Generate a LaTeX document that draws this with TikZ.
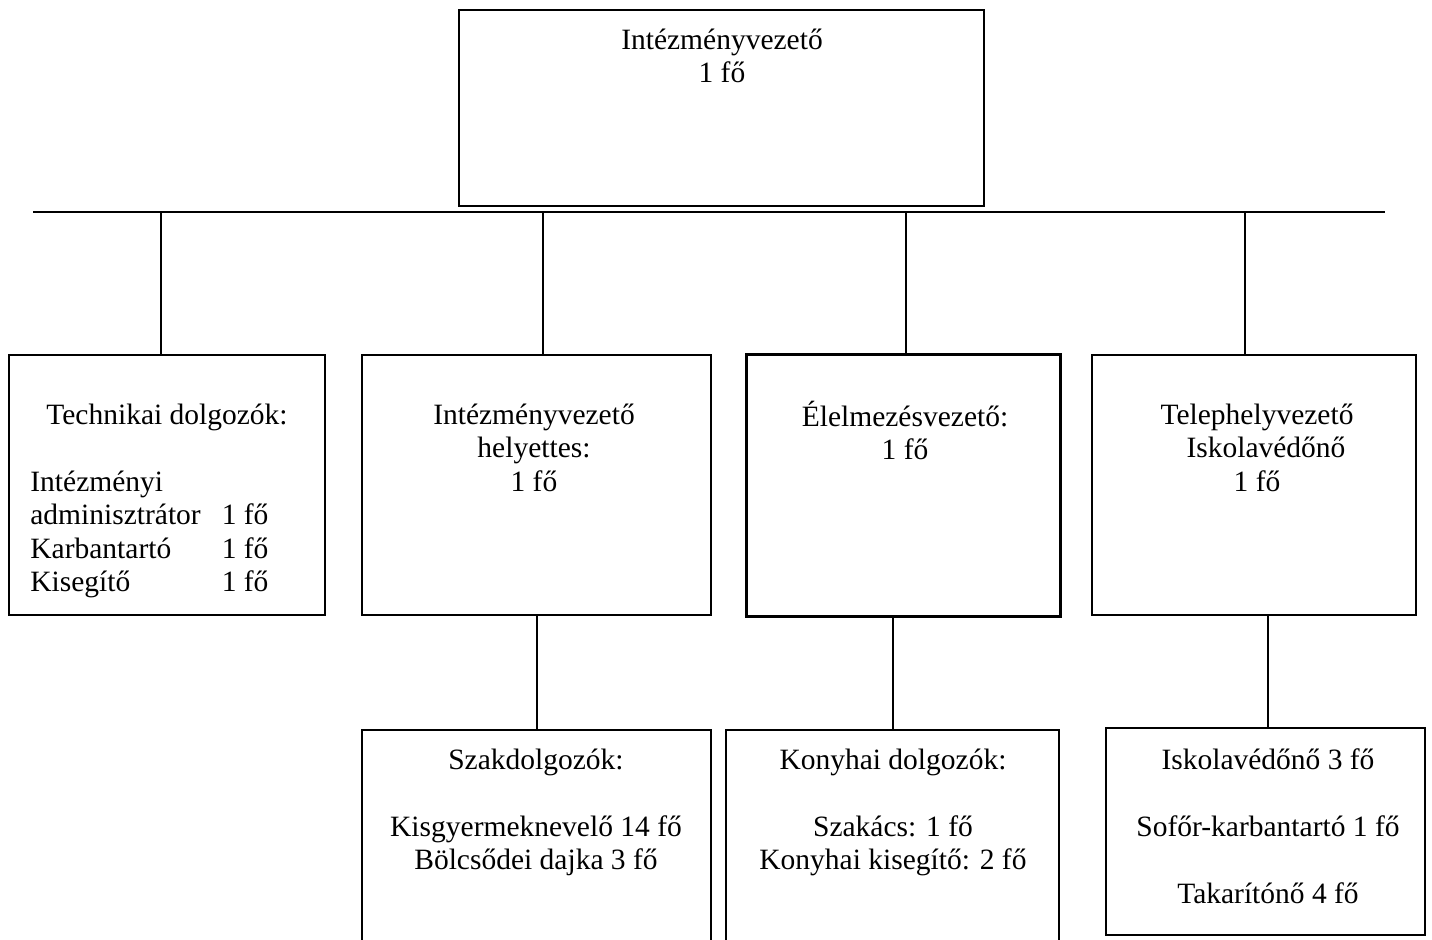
\documentclass[tikz,border=0pt]{standalone}
\usepackage{fontspec}
\setmainfont{Liberation Serif}
\newcommand{\bodyfont}{\fontsize{14.75pt}{16.75pt}\selectfont}
\begin{document}
\begin{tikzpicture}[x=0.5pt,y=-0.5pt,
  box/.style={draw, line width=1pt, rectangle, inner sep=0pt},
  txt/.style={font=\bodyfont, align=center, anchor=north, inner sep=0pt},
  conn/.style={line width=1pt}]
\clip (0,0) rectangle (1432,940);
% boxes
\node[box, minimum width=262.5pt, minimum height=98pt] (top) at (721.5,108) {};
\node[box, minimum width=158pt, minimum height=130pt] (n1) at (167,485) {};
\node[box, minimum width=174.5pt, minimum height=130pt] (n2) at (536.5,485) {};
\node[box, line width=1.5pt, minimum width=157pt, minimum height=131pt] (n3) at (903,486) {};
\node[box, minimum width=162pt, minimum height=130pt] (n4) at (1254,485) {};
\node[box, minimum width=174.5pt, minimum height=115pt] (n5) at (536.5,845) {};
\node[box, minimum width=166.5pt, minimum height=115pt] (n6) at (892.5,845) {};
\node[box, minimum width=159.5pt, minimum height=103.5pt] (n7) at (1265.5,831.5) {};
% bus and connectors
\coordinate (busL) at (33,212);
\coordinate (busR) at (1385,212);
\draw[conn] (busL) -- (busR);
\coordinate (d1) at (161,212);
\coordinate (d2) at (543,212);
\coordinate (d3) at (906,212);
\coordinate (d4) at (1245,212);
\draw[conn] (d1) -- (d1 |- n1.north);
\draw[conn] (d2) -- (d2 |- n2.north);
\draw[conn] (d3) -- (d3 |- n3.north);
\draw[conn] (d4) -- (d4 |- n4.north);
\draw[conn] (n2.south) -- (n5.north);
\draw[conn] (n6.north |- n3.south) -- (n6.north);
\coordinate (c7) at (1268,0);
\draw[conn] (c7 |- n4.south) -- (c7 |- n7.north);
% texts
\node[txt] (t0) at (722,25.5) {\strut Intézményvezető\\1 fő};
\node[txt] (t1) at (167,400.5) {\strut Technikai dolgozók:};
\node[font=\bodyfont, inner sep=0pt, anchor=north west] (t1b) at (30,467.5)
  {\begin{tabular}{@{}l@{\hspace{10.5pt}}l@{}}
   Intézményi & \\
   adminisztrátor & 1 fő\\
   Karbantartó & 1 fő\\
   Kisegítő & 1 fő
   \end{tabular}};
\node[txt] (t2) at (534,400.5) {\strut Intézményvezető\\helyettes:\\1 fő};
\node[txt] (t3) at (905,400.5) {\strut Élelmezésvezető:\\1 fő};
\node[txt] (t4) at (1257,400.5) {\strut Telephelyvezető\\\hspace*{9pt}Iskolavédőnő\\1 fő};
\node[txt] (t5) at (536,745.5) {\strut Szakdolgozók:\\[16.75pt]Kisgyermeknevelő 14 fő\\Bölcsődei dajka 3 fő};
\node[txt] (t6) at (893,745.5) {\strut Konyhai dolgozók:\\[16.75pt]Szakács: 1 fő\\Konyhai kisegítő: 2 fő};
\node[txt] (t7) at (1268,745.5) {\strut Iskolavédőnő 3 fő\\[16.75pt]Sofőr-karbantartó 1 fő\\[16.75pt]Takarítónő 4 fő};
\end{tikzpicture}
\end{document}
